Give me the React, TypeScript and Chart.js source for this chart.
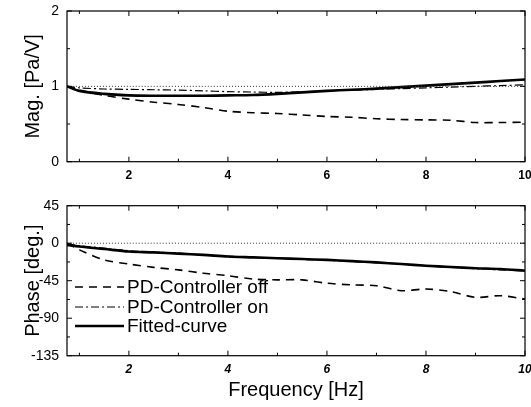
import React, { useEffect, useRef } from 'react';
import { Chart, registerables } from 'chart.js';
Chart.register(...registerables);

const FREQ = [0.75, 1, 1.5, 2, 2.5, 3, 3.5, 4, 4.5, 5, 5.5, 6, 6.5, 7, 7.5, 8, 8.5, 9, 9.5, 10];
const MAG_OFF = [1.0, 0.95, 0.88, 0.83, 0.79, 0.76, 0.72, 0.67, 0.65, 0.64, 0.62, 0.6, 0.59, 0.57, 0.56, 0.555, 0.55, 0.52, 0.52, 0.525];
const MAG_ON = [1.0, 0.98, 0.965, 0.96, 0.955, 0.95, 0.94, 0.93, 0.925, 0.92, 0.93, 0.94, 0.95, 0.96, 0.97, 0.98, 0.99, 1.0, 1.01, 1.02];
const MAG_FIT = [1.0, 0.94, 0.9, 0.88, 0.875, 0.875, 0.875, 0.88, 0.885, 0.9, 0.92, 0.94, 0.955, 0.97, 0.99, 1.01, 1.03, 1.05, 1.07, 1.09];
const PHASE_OFF = [0, -8, -20, -25, -29, -32, -36, -39, -43, -44, -44, -48, -50, -51, -57, -55, -58, -65, -63, -67];
const PHASE_ON = [-1, -3, -6, -9, -10.5, -12, -14, -15.5, -17, -18, -19.5, -20.5, -22, -23.5, -25, -27, -29, -30.5, -32, -33];
const PHASE_FIT = [-2, -4, -7, -10, -11, -12.5, -14, -16, -17, -18, -19, -20, -21.5, -23, -25, -27, -28.5, -30, -31, -33];
const MAG_REF = 1;
const PHASE_REF = 0;

const X_TICKS = [2, 4, 6, 8, 10];
const X_MINOR = [1, 3, 5, 7, 9];
const MAG_TICKS = [0, 1, 2];
const MAG_MINOR = [0.5, 1.5];
const PHASE_TICKS = [-135, -90, -45, 0, 45];
const PHASE_MINOR = [-112.5, -67.5, -22.5, 22.5];
const LEGEND_LABELS = ['PD-Controller off', 'PD-Controller on', 'Fitted-curve'];

const FONT = "'Liberation Sans', Arial, Helvetica, sans-serif";
const X_MIN = 0.75;
const X_MAX = 10;

const DASH_OFF = [8, 6];
const DASH_ON = [8, 3, 2, 3];
const DASH_REF = [1, 2];

const pts = (ys: number[]) => FREQ.map((x, i) => ({ x, y: ys[i] }));
const refPts = (v: number) => [{ x: X_MIN, y: v }, { x: X_MAX, y: v }];

function makeFramePlugin(yMajor: number[], yMinor: number[]) {
  return {
    id: 'frame',
    afterDatasetsDraw(chart: any) {
      const { ctx, chartArea, scales } = chart;
      const { left, right, top, bottom } = chartArea;
      ctx.save();
      ctx.strokeStyle = '#000';
      ctx.lineWidth = 1.2;
      ctx.setLineDash([]);
      ctx.strokeRect(left, top, right - left, bottom - top);
      ctx.lineWidth = 1;
      const xs = scales.x;
      const ys = scales.y;
      const tick = (vals: number[], len: number) => {
        vals.forEach((v) => {
          const px = xs.getPixelForValue(v);
          ctx.beginPath();
          ctx.moveTo(px, bottom);
          ctx.lineTo(px, bottom - len);
          ctx.moveTo(px, top);
          ctx.lineTo(px, top + len);
          ctx.stroke();
        });
      };
      const ytick = (vals: number[], len: number) => {
        vals.forEach((v) => {
          const py = ys.getPixelForValue(v);
          ctx.beginPath();
          ctx.moveTo(left, py);
          ctx.lineTo(left + len, py);
          ctx.moveTo(right, py);
          ctx.lineTo(right - len, py);
          ctx.stroke();
        });
      };
      tick(X_TICKS, 5);
      tick(X_MINOR, 3);
      ytick(yMajor, 5);
      ytick(yMinor, 3);
      ctx.restore();
    },
  };
}

const legendPlugin = {
  id: 'customLegend',
  afterDraw(chart: any) {
    const { ctx } = chart;
    const rows = [92, 112, 131];
    const dashes = [DASH_OFF, DASH_ON, []];
    const widths = [1.6, 1.2, 2.6];
    ctx.save();
    ctx.strokeStyle = '#000';
    ctx.fillStyle = '#000';
    ctx.font = `19px ${FONT}`;
    ctx.textBaseline = 'middle';
    ctx.textAlign = 'left';
    rows.forEach((y, i) => {
      ctx.beginPath();
      ctx.setLineDash(dashes[i]);
      ctx.lineWidth = widths[i];
      ctx.moveTo(75, y);
      ctx.lineTo(124, y);
      ctx.stroke();
      ctx.setLineDash([]);
      ctx.fillText(LEGEND_LABELS[i], 127, y + 1);
    });
    ctx.restore();
  },
};

function lineDs(data: any[], width: number, dash: number[], color = '#000') {
  return {
    data,
    borderColor: color,
    backgroundColor: color,
    borderWidth: width,
    borderDash: dash,
    pointRadius: 0,
    fill: false,
    tension: 0.3,
  };
}

function baseOptions(opts: {
  yMin: number; yMax: number; yTicks: number[]; yTitle: string; padTop: number;
  xHeight: number; italic: boolean; xTitle?: string;
}) {
  return {
    responsive: false,
    animation: false as const,
    events: [],
    layout: { padding: { top: opts.padTop, right: 6, left: 0, bottom: 0 } },
    plugins: { legend: { display: false }, tooltip: { enabled: false } },
    scales: {
      x: {
        type: 'linear' as const,
        min: X_MIN,
        max: X_MAX,
        afterBuildTicks: (s: any) => { s.ticks = X_TICKS.map((v) => ({ value: v })); },
        grid: { display: false, drawTicks: false },
        border: { display: false },
        ticks: {
          padding: 7,
          color: '#000',
          maxRotation: 0,
          autoSkip: false,
          font: { family: FONT, size: 12, weight: 'bold' as const, style: opts.italic ? ('italic' as const) : ('normal' as const) },
        },
        title: opts.xTitle
          ? { display: true, text: opts.xTitle, color: '#000', font: { family: FONT, size: 20 }, padding: { top: 0, bottom: 5 } }
          : { display: false },
        afterFit: (s: any) => {
          s.height = opts.xHeight;
          s.paddingLeft = 0;
          s.paddingRight = 0;
        },
      },
      y: {
        min: opts.yMin,
        max: opts.yMax,
        afterBuildTicks: (s: any) => { s.ticks = opts.yTicks.map((v) => ({ value: v })); },
        grid: { display: false, drawTicks: false },
        border: { display: false },
        ticks: { padding: 8, color: '#000', font: { family: FONT, size: 14 } },
        title: { display: true, text: opts.yTitle, color: '#000', font: { family: FONT, size: 20 }, padding: { top: 21, bottom: 0 } },
        afterFit: (s: any) => {
          s.width = 67;
          s.paddingTop = 0;
          s.paddingBottom = 0;
        },
      },
    },
  };
}

export default function App() {
  const topRef = useRef<HTMLCanvasElement>(null);
  const botRef = useRef<HTMLCanvasElement>(null);

  useEffect(() => {
    const magChart = new Chart(topRef.current!, {
      type: 'line',
      data: {
        datasets: [
          lineDs(refPts(MAG_REF), 1, DASH_REF, '#333'),
          lineDs(pts(MAG_OFF), 1.6, DASH_OFF),
          lineDs(pts(MAG_ON), 1.2, DASH_ON),
          lineDs(pts(MAG_FIT), 2.6, []),
        ],
      },
      options: baseOptions({ yMin: 0, yMax: 2, yTicks: MAG_TICKS, yTitle: 'Mag. [Pa/V]', padTop: 11, xHeight: 33.3, italic: false }) as any,
      plugins: [makeFramePlugin(MAG_TICKS, MAG_MINOR)],
    });
    const phaseChart = new Chart(botRef.current!, {
      type: 'line',
      data: {
        datasets: [
          lineDs(refPts(PHASE_REF), 1, DASH_REF, '#333'),
          lineDs(pts(PHASE_OFF), 1.6, DASH_OFF),
          lineDs(pts(PHASE_ON), 1.2, DASH_ON),
          lineDs(pts(PHASE_FIT), 2.6, []),
        ],
      },
      options: baseOptions({ yMin: -135, yMax: 45, yTicks: PHASE_TICKS, yTitle: 'Phase [deg.]', padTop: 10.7, xHeight: 51.3, italic: true, xTitle: 'Frequency [Hz]' }) as any,
      plugins: [makeFramePlugin(PHASE_TICKS, PHASE_MINOR), legendPlugin],
    });
    return () => {
      magChart.destroy();
      phaseChart.destroy();
    };
  }, []);

  return (
    <div style={{ position: 'absolute', left: 0, top: 0, width: 531, height: 407, background: '#fff' }}>
      <canvas ref={topRef} width={531} height={195} style={{ position: 'absolute', left: 0, top: 0 }} />
      <canvas ref={botRef} width={531} height={212} style={{ position: 'absolute', left: 0, top: 195 }} />
    </div>
  );
}
